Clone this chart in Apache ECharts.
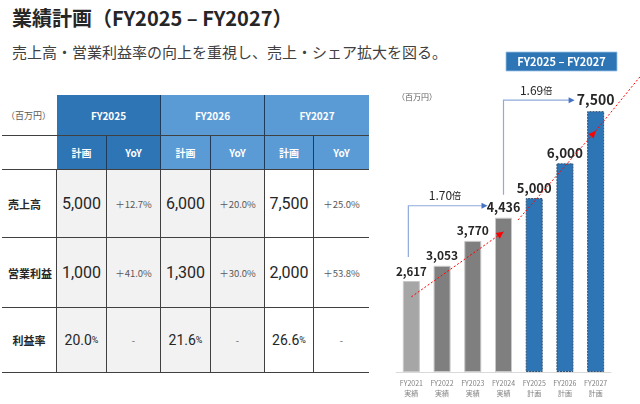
<!DOCTYPE html>
<html lang="ja">
<head>
<meta charset="utf-8"/>
<title>業績計画</title>
<script src="https://cdn.jsdelivr.net/npm/echarts@6/dist/echarts.min.js"></script>
<style>
  html, body { margin: 0; padding: 0; background: #fff; }
  body { width: 640px; height: 404px; position: relative; overflow: hidden;
         font-family: "Noto Sans CJK JP", "Noto Sans", sans-serif; color: #262626; }
  #title { position: absolute; left: 12px; top: 4px; font-size: 20px; font-weight: bold; line-height: 28px; white-space: nowrap; }
  #subtitle { position: absolute; left: 12px; top: 41px; font-size: 15px; line-height: 22px; color: #404040; white-space: nowrap; }
  #table { position: absolute; left: 2px; top: 95px; display: grid;
           grid-template-columns: 55px 50px 54px 50px 54px 49px 55px;
           grid-template-rows: 41px 34px 68px 70px 65px; }
  #table div { box-sizing: border-box; display: flex; align-items: center; justify-content: center; }
  .hb { border-bottom: 1px solid #404040; }
  .hr { border-right: 1px solid #404040; }
  .nr { border-right: 1px solid #1f3b5c; }
  .y25 { background: #2e75b6; color: #fff; font-size: 10px; font-weight: bold; }
  .y26 { background: #5b9bd5; color: #fff; font-size: 10px; font-weight: bold; }
  .gray { background: #f2f2f2; }
  .rowlab { font-size: 11px; font-weight: bold; }
  .num { font-size: 16px; font-family: Roboto, "Noto Sans CJK JP", sans-serif; }
  .yoy { font-size: 9.5px; color: #595959; }
  .pct { font-size: 14px; font-family: Roboto, "Noto Sans CJK JP", sans-serif; }
  .pct small { font-size: 9px; }
  #chart { position: absolute; left: 375px; top: 0; width: 265px; height: 404px; }
</style>
</head>
<body>
<div id="title">業績計画（FY2025 – FY2027）</div>
<div id="subtitle">売上高・営業利益率の向上を重視し、売上・シェア拡大を図る。</div>
<div id="table"></div>
<div id="chart"></div>
<script>
// bar chart data
const categories = ['FY2021', 'FY2022', 'FY2023', 'FY2024', 'FY2025', 'FY2026', 'FY2027'];
const kinds = ['実績', '実績', '実績', '実績', '計画', '計画', '計画'];
const sales = [2617, 3053, 3770, 4436, 5000, 6000, 7500];
const multiples = ['1.70', '1.69'];
// dotted trend arrows, [category index, value]
const trendActual = [[0, 2160], [3, 4030]];
const trendPlan = [[3.47, 4370], [6, 6930]];
const trendTail = [[6, 6930], [7.5, 8550]];

// table data
const tableYears = ['FY2025', 'FY2026', 'FY2027'];
const planSales = [5000, 6000, 7500];
const salesYoY = [12.7, 20.0, 25.0];
const planOpIncome = [1000, 1300, 2000];
const opIncomeYoY = [41.0, 30.0, 53.8];
const opMargin = [20.0, 21.6, 26.6];

// ---- table ----
const fmt = v => v.toLocaleString('en-US');
const yoy = v => '＋' + v.toFixed(1) + '%';
let html = '<div class="hb" style="font-size:9px;color:#595959;justify-content:flex-end;padding-right:6px">（百万円）</div>';
tableYears.forEach((y, i) => {
  html += '<div class="' + (i === 0 ? 'y25' : 'y26') + ' hb' + (i < 2 ? ' nr' : '') +
          '" style="grid-column: span 2">' + y + '</div>';
});
html += '<div class="hb"></div>';
tableYears.forEach((y, i) => {
  const c = i === 0 ? 'y25' : 'y26';
  html += '<div class="' + c + ' hb nr">計画</div>';
  html += '<div class="' + c + ' hb' + (i < 2 ? ' nr' : '') + '">YoY</div>';
});
const rows = [
  ['売上高', planSales.map(fmt), salesYoY.map(yoy), 'num', 'flex-start;padding-left:6px'],
  ['営業利益', planOpIncome.map(fmt), opIncomeYoY.map(yoy), 'num', 'flex-start;padding-left:6px'],
  ['利益率', opMargin.map(v => v.toFixed(1) + '<small>%</small>'), ['-', '-', '-'], 'pct', 'center']
];
rows.forEach(r => {
  html += '<div class="rowlab hb hr" style="justify-content:' + r[4] + '">' + r[0] + '</div>';
  for (let i = 0; i < 3; i++) {
    const g = i < 2 ? ' gray' : '';
    html += '<div class="' + r[3] + ' hb hr' + g + '">' + r[1][i] + '</div>';
    html += '<div class="yoy hb' + (i < 2 ? ' hr' : '') + g + '">' + r[2][i] + '</div>';
  }
});
document.getElementById('table').innerHTML = html;

// ---- chart ----
const chart = echarts.init(document.getElementById('chart'));
const labelSizes = [11.5, 12, 12, 12.5, 13, 13.5, 14];
const barData = sales.map((v, i) => {
  const plan = kinds[i] === '計画';
  return {
    value: v,
    itemStyle: plan
      ? { color: '#2e75b6', borderColor: '#2f4f6f', borderWidth: 1, borderType: [2, 1] }
      : { color: i === 0 ? '#a6a6a6' : '#7f7f7f', borderColor: '#c8c8c8', borderWidth: 1 },
    label: { fontSize: labelSizes[i] }
  };
});

chart.setOption({
  animation: false,
  grid: { left: 21, right: 29, top: 59, bottom: 32 },
  xAxis: {
    type: 'category',
    data: categories.map((c, i) => c + '\n' + kinds[i]),
    axisLine: { lineStyle: { color: '#d9d9d9' } },
    axisTick: { show: false },
    axisLabel: { interval: 0, color: '#7f7f7f', fontSize: 7, lineHeight: 10, margin: 6,
                 fontFamily: 'Noto Sans CJK JP' }
  },
  yAxis: { type: 'value', min: 0, max: 9000, show: false },
  series: [{
    type: 'bar',
    data: barData,
    barWidth: 17,
    label: {
      show: true, position: 'top', distance: 4, color: '#262626', fontWeight: 'bold',
      fontFamily: 'Noto Sans CJK JP',
      formatter: p => fmt(p.value)
    }
  }]
});

// pixel helpers from the chart's own scales
const p0 = chart.convertToPixel({ seriesIndex: 0 }, [0, 0]);
const p1 = chart.convertToPixel({ seriesIndex: 0 }, [1, 0]);
const step = p1[0] - p0[0];
const pt = (i, v) => [p0[0] + i * step, chart.convertToPixel({ seriesIndex: 0 }, [0, v])[1]];

function head(tip, from, size, color) {
  const dx = tip[0] - from[0], dy = tip[1] - from[1];
  const len = Math.hypot(dx, dy);
  const ux = dx / len, uy = dy / len;
  const bx = tip[0] - ux * size, by = tip[1] - uy * size;
  return {
    type: 'polygon', silent: true, z: 10,
    shape: { points: [tip, [bx - uy * size * 0.5, by + ux * size * 0.5], [bx + uy * size * 0.5, by - ux * size * 0.5]] },
    style: { fill: color }
  };
}
function seg(a, b, style) {
  return { type: 'line', silent: true, z: 9, shape: { x1: a[0], y1: a[1], x2: b[0], y2: b[1] }, style: style };
}

const red = { stroke: '#ff0000', lineWidth: 1, lineDash: [2, 2] };
const blue = { stroke: '#8faadc', lineWidth: 1.2 };
const g = [];

// red dotted trend arrows
const a1 = pt(...trendActual[0]), a2 = pt(...trendActual[1]);
g.push(seg(a1, a2, red), head(a2, a1, 7, '#ff0000'));
const b1 = pt(...trendPlan[0]), b2 = pt(...trendPlan[1]);
g.push(seg(b1, b2, red), head(b2, b1, 7, '#ff0000'));
g.push(seg(pt(...trendTail[0]), pt(...trendTail[1]), red));

// blue growth connectors
const q21 = pt(0, sales[0]), q24 = pt(3, sales[3]), q27 = pt(6, sales[6]);
const c1 = [[q21[0] - 3, q21[1] - 24], [q21[0] - 3, q24[1] - 12], [q24[0] - 16, q24[1] - 12]];
g.push({ type: 'polyline', silent: true, z: 9, shape: { points: [c1[0], c1[1], [c1[2][0] - 4, c1[2][1]]] }, style: Object.assign({ fill: null }, blue) });
g.push(head(c1[2], c1[1], 6, '#4472c4'));
const c2 = [[q24[0], q24[1] - 23], [q24[0], q27[1] - 11], [q27[0] - 21, q27[1] - 11]];
g.push({ type: 'polyline', silent: true, z: 9, shape: { points: [c2[0], c2[1], [c2[2][0] - 4, c2[2][1]]] }, style: Object.assign({ fill: null }, blue) });
g.push(head(c2[2], c2[1], 6, '#4472c4'));

const rich = { a: { fontSize: 12, fill: '#262626', fontFamily: 'Noto Sans CJK JP' },
               b: { fontSize: 9, fill: '#262626', fontFamily: 'Noto Sans CJK JP' } };
[[c1, multiples[0]], [c2, multiples[1]]].forEach(([c, m]) => {
  g.push({
    type: 'text', silent: true,
    x: (c[1][0] + c[2][0]) / 2 - 3, y: c[1][1] - 10,
    style: { text: '{a|' + m + '}{b|倍}', rich: rich, align: 'center', verticalAlign: 'middle' }
  });
});

// unit note and period badge
g.push({
  type: 'text', silent: true, x: 22, y: 97,
  style: { text: '（百万円）', fontSize: 8, fill: '#595959', fontFamily: 'Noto Sans CJK JP', verticalAlign: 'middle' }
});
g.push({
  type: 'rect', silent: true, shape: { x: 131, y: 52, width: 111, height: 19 },
  style: { fill: '#2e75b6', stroke: '#9dc3e6', lineWidth: 0.8 }
});
g.push({
  type: 'text', silent: true, x: 186.5, y: 61.5,
  style: { text: 'FY2025 – FY2027', fontSize: 11, fontWeight: 'bold', fill: '#fff',
           fontFamily: 'Noto Sans CJK JP', align: 'center', verticalAlign: 'middle' }
});

chart.setOption({ graphic: g });
</script>
</body>
</html>
